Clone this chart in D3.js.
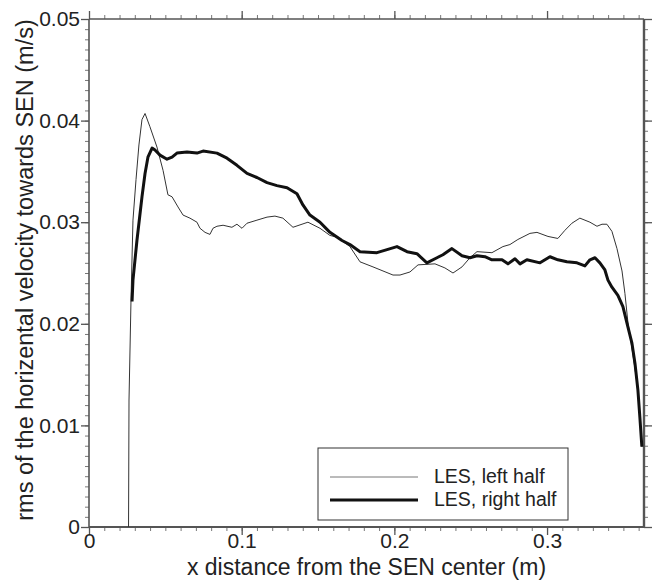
<!DOCTYPE html>
<html>
<head>
<meta charset="utf-8">
<script src="https://cdn.jsdelivr.net/npm/d3@7"></script>
<style>
  body { margin: 0; background: #fff; }
  text { font-family: "Liberation Sans", Arial, Helvetica, sans-serif; fill: #222; }
</style>
</head>
<body>
<div id="chart"></div>
<script>
// x positions (m) and rms values (m/s)
const leftX = [0.0259, 0.0262, 0.0275, 0.0288, 0.0308, 0.0327, 0.0347, 0.0367, 0.0399, 0.0445,
  0.0485, 0.0517, 0.0544, 0.0583, 0.0616, 0.0661, 0.0707, 0.0727, 0.0760, 0.0792,
  0.0812, 0.0838, 0.0878, 0.0936, 0.0969, 0.1002, 0.1035, 0.1100, 0.1166, 0.1218,
  0.1270, 0.1336, 0.1434, 0.1513, 0.1578, 0.1631, 0.1663, 0.1709, 0.1775, 0.1860,
  0.1991, 0.2037, 0.2102, 0.2155, 0.2266, 0.2331, 0.2384, 0.2443, 0.2495, 0.2541,
  0.2639, 0.2711, 0.2757, 0.2809, 0.2888, 0.2934, 0.3006, 0.3071, 0.3117, 0.3163,
  0.3215, 0.3281, 0.3327, 0.3360, 0.3392, 0.3425, 0.3458, 0.3491, 0.3510, 0.3530,
  0.3563, 0.3589, 0.3608, 0.3621]
const leftRms = [0, 0.0125, 0.0223, 0.0302, 0.0342, 0.0376, 0.0401, 0.0407, 0.0394, 0.0374,
  0.0351, 0.0327, 0.0325, 0.0315, 0.0307, 0.0304, 0.0300, 0.0294, 0.0290, 0.0288,
  0.0294, 0.0296, 0.0297, 0.0295, 0.0298, 0.0294, 0.0299, 0.0302, 0.0305, 0.0306,
  0.0304, 0.0295, 0.0300, 0.0294, 0.0287, 0.0285, 0.0281, 0.0276, 0.0261, 0.0256,
  0.0248, 0.0248, 0.0251, 0.0258, 0.0259, 0.0255, 0.0250, 0.0256, 0.0265, 0.0271,
  0.0270, 0.0276, 0.0278, 0.0283, 0.0289, 0.0290, 0.0286, 0.0284, 0.0292, 0.0299,
  0.0304, 0.0300, 0.0296, 0.0298, 0.0298, 0.0291, 0.0274, 0.0252, 0.0230, 0.0201,
  0.0169, 0.0142, 0.0110, 0.0079]

const rightX = [0.0282, 0.0288, 0.0314, 0.0347, 0.0367, 0.0386, 0.0413, 0.0432, 0.0465, 0.0511,
  0.0544, 0.0576, 0.0642, 0.0707, 0.0747, 0.0838, 0.0904, 0.0969, 0.1035, 0.1100,
  0.1166, 0.1231, 0.1297, 0.1362, 0.1401, 0.1447, 0.1513, 0.1578, 0.1657, 0.1709,
  0.1775, 0.1886, 0.1952, 0.2017, 0.2083, 0.2148, 0.2213, 0.2279, 0.2318, 0.2377,
  0.2443, 0.2495, 0.2541, 0.2593, 0.2639, 0.2705, 0.2744, 0.2790, 0.2823, 0.2868,
  0.2954, 0.3019, 0.3071, 0.3130, 0.3196, 0.3248, 0.3281, 0.3314, 0.3346, 0.3379,
  0.3399, 0.3425, 0.3464, 0.3497, 0.3523, 0.3556, 0.3576, 0.3595, 0.3608, 0.3621]
const rightRms = [0.0222, 0.0243, 0.0282, 0.0325, 0.0348, 0.0364, 0.0373, 0.0371, 0.0366, 0.0362,
  0.0364, 0.0368, 0.0369, 0.0368, 0.0370, 0.0368, 0.0363, 0.0356, 0.0348, 0.0344,
  0.0339, 0.0336, 0.0334, 0.0328, 0.0317, 0.0307, 0.0300, 0.0290, 0.0282, 0.0278,
  0.0271, 0.0270, 0.0273, 0.0276, 0.0271, 0.0269, 0.0260, 0.0265, 0.0268, 0.0274,
  0.0267, 0.0265, 0.0267, 0.0266, 0.0263, 0.0263, 0.0259, 0.0264, 0.0259, 0.0263,
  0.0260, 0.0266, 0.0263, 0.0261, 0.0260, 0.0257, 0.0263, 0.0265, 0.0260, 0.0253,
  0.0243, 0.0236, 0.0228, 0.0217, 0.0201, 0.0181, 0.0161, 0.0135, 0.0108, 0.0079]

const xTickLabels = ["0", "0.1", "0.2", "0.3"]
const yTickLabels = ["0", "0.01", "0.02", "0.03", "0.04", "0.05"]
const seriesNames = ["LES, left half", "LES, right half"]

const w = 654, h = 580
const margin = ({top: 19, right: 10, bottom: 53, left: 89})

const x = d3.scaleLinear()
    .domain([0, 0.3635])
    .range([margin.left, w - margin.right])

const y = d3.scaleLinear()
    .domain([0, 0.05])
    .range([h - margin.bottom, margin.top])

const svg = d3.select("#chart")
    .append("svg")
    .attr("width", w)
    .attr("height", h)
    .attr("viewBox", [0, 0, w, h])

const axisColor = "#555"
const xMajor = xTickLabels.map(Number)
const yMajor = yTickLabels.map(Number)
const xMinor = d3.range(0, 37).map(i => i / 100)
const yMinor = d3.range(0, 51).map(i => i / 1000)

// one side of the frame: minor ticks, then major ticks with labels
function side(axisFn, transform, minor, major, labels, pad) {
    const g = svg.append("g").attr("transform", transform)
    g.call(axisFn(minor).tickSize(4).tickFormat(""))
    g.selectAll(".tick line").attr("stroke", "#777")
    const gm = svg.append("g").attr("transform", transform)
    gm.call(axisFn(major).tickSize(8).tickPadding(pad)
        .tickFormat((d, i) => labels ? labels[i] : ""))
    gm.selectAll(".tick line").attr("stroke", axisColor).attr("stroke-width", 1.3)
    gm.selectAll(".tick text").style("font-size", "21px").attr("fill", "#222")
}

side(v => d3.axisBottom(x).tickValues(v), `translate(0,${y(0)})`, xMinor, xMajor, xTickLabels, -2)
side(v => d3.axisTop(x).tickValues(v), `translate(0,${y(0.05)})`, xMinor, xMajor, null, 3)
side(v => d3.axisLeft(y).tickValues(v), `translate(${x(0)},0)`, yMinor, yMajor, yTickLabels, 1)
side(v => d3.axisRight(y).tickValues(v), `translate(${x(0.3635)},0)`, yMinor, yMajor, null, 3)

// plain frame lines instead of the axis domains
svg.selectAll(".domain").remove()
svg.append("g")
    .attr("stroke", axisColor)
    .call(g => g.append("line").attr("x1", x(0)).attr("x2", x(0.3635)).attr("y1", y(0)).attr("y2", y(0)).attr("stroke-width", 1.8))
    .call(g => g.append("line").attr("x1", x(0)).attr("x2", x(0.3635)).attr("y1", y(0.05)).attr("y2", y(0.05)).attr("stroke-width", 1.6))
    .call(g => g.append("line").attr("x1", x(0)).attr("x2", x(0)).attr("y1", y(0)).attr("y2", y(0.05)).attr("stroke-width", 1.6))
    .call(g => g.append("line").attr("x1", x(0.3635)).attr("x2", x(0.3635)).attr("y1", y(0)).attr("y2", y(0.05)).attr("stroke-width", 2.4))

const line = d3.line()
    .x(d => x(d[0]))
    .y(d => y(d[1]))

svg.append("path")
    .datum(d3.zip(leftX, leftRms))
    .attr("fill", "none")
    .attr("stroke", "#333")
    .attr("stroke-width", 1)
    .attr("d", line)

svg.append("path")
    .datum(d3.zip(rightX, rightRms))
    .attr("fill", "none")
    .attr("stroke", "#111")
    .attr("stroke-width", 3)
    .attr("stroke-linejoin", "round")
    .attr("d", line)

// axis titles
svg.append("text")
    .attr("x", (x(0) + x(0.3635)) / 2)
    .attr("y", 575)
    .attr("text-anchor", "middle")
    .style("font-size", "23px")
    .text("x distance from the SEN center (m)")

svg.append("text")
    .attr("transform", `translate(33,${(y(0) + y(0.05)) / 2 - 3}) rotate(-90)`)
    .attr("text-anchor", "middle")
    .style("font-size", "23.5px")
    .text("rms of the horizental velocity towards SEN (m/s)")

// legend
const legend = svg.append("g")
legend.append("rect")
    .attr("x", 318).attr("y", 448)
    .attr("width", 250).attr("height", 72)
    .attr("fill", "#fff")
    .attr("stroke", "#333")
    .attr("stroke-width", 1)

const legendRows = [{w: 1, c: "#777", dy: 477}, {w: 3, c: "#111", dy: 500}]
legend.selectAll("line")
    .data(legendRows)
    .join("line")
    .attr("x1", 330).attr("x2", 418)
    .attr("y1", d => d.dy).attr("y2", d => d.dy)
    .attr("stroke", d => d.c)
    .attr("stroke-width", d => d.w)

legend.selectAll("text")
    .data(seriesNames)
    .join("text")
    .attr("x", 434)
    .attr("y", (d, i) => legendRows[i].dy + 6)
    .style("font-size", "19.5px")
    .text(d => d)
</script>
</body>
</html>
